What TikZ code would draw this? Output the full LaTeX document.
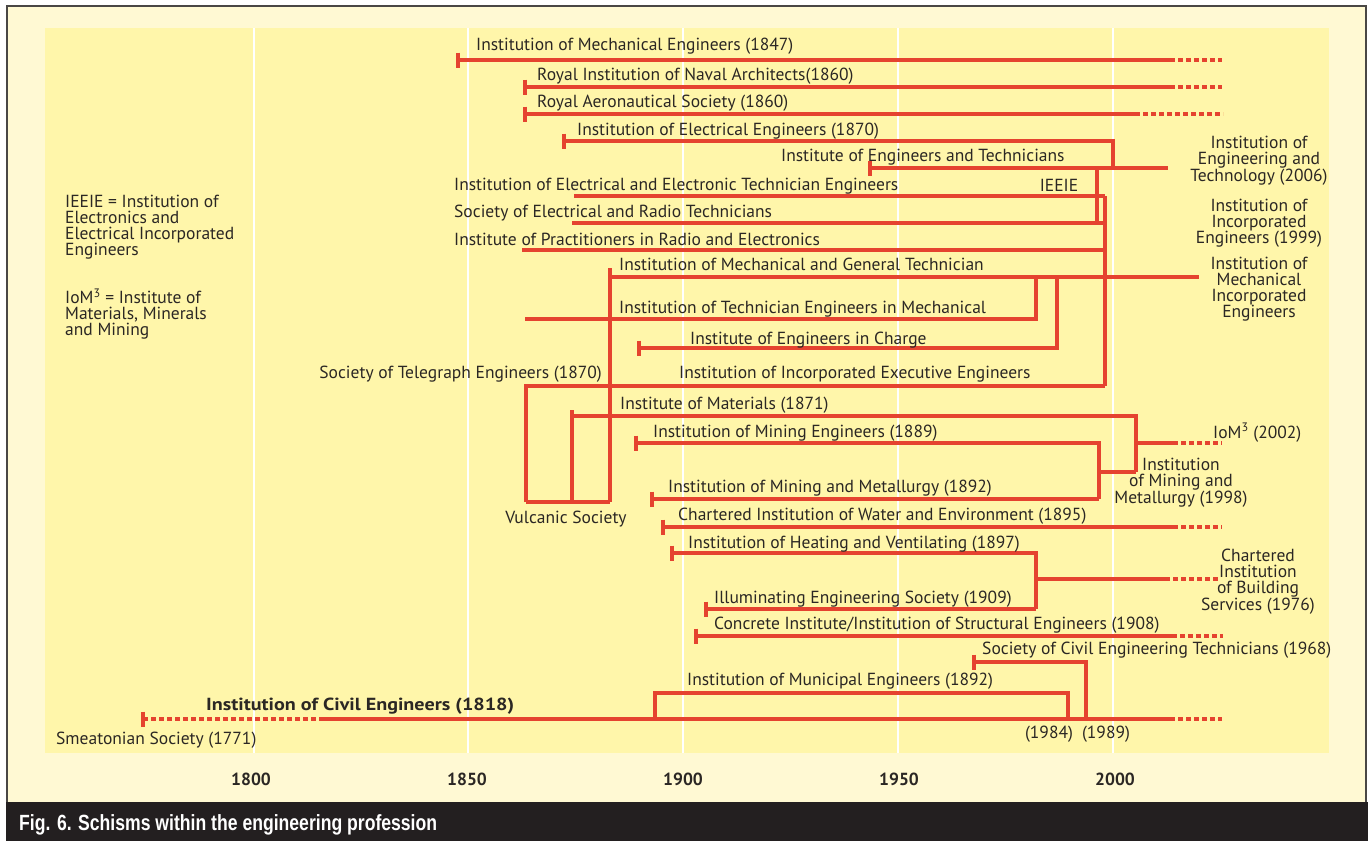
\documentclass[tikz,border=0pt]{standalone}
\usepackage{fontspec}
\usepackage{graphicx}
\setmainfont{PT Sans}
\newfontfamily\capfont{Liberation Sans}
\definecolor{redl}{HTML}{E5432F}
\definecolor{creamc}{HTML}{FFF9D3}
\definecolor{plotc}{HTML}{FFF6AA}
\definecolor{txtc}{HTML}{2B2724}
\definecolor{barc}{HTML}{231F20}
\definecolor{framec}{HTML}{4A4745}
\newcommand\rtick[2]{\draw[tk] (#1,#2-7.5) -- (#1,#2+7.5);}
\begin{document}
\begin{tikzpicture}[x=1pt,y=-1pt,
  ln/.style={draw=redl, line width=3.1pt, line join=miter},
  dsh/.style={draw=redl, line width=3.1pt, dash pattern=on 5pt off 3pt},
  tk/.style={draw=redl, line width=3.1pt},
  grid/.style={draw=white, line width=2.5pt},
  lab/.style={anchor=base west, inner sep=0pt, text=txtc, font=\fontsize{17.5}{16}\selectfont},
  labe/.style={anchor=base east, inner sep=0pt, text=txtc, font=\fontsize{17.5}{16}\selectfont},
  labc/.style={anchor=base, inner sep=0pt, text=txtc, font=\fontsize{17.5}{16}\selectfont},
  mlab/.style={align=center, inner sep=0pt, text=txtc, font=\fontsize{17.5}{16}\selectfont},
  note/.style={align=left, anchor=west, inner sep=0pt, text=txtc, font=\fontsize{17.5}{16}\selectfont},
  yr/.style={inner sep=0pt, text=txtc, font=\fontsize{17.5}{18}\selectfont\bfseries}]
\useasboundingbox (0,0) rectangle (1368,841);
% backgrounds
\fill[white] (0,0) rectangle (1368,841);
\fill[creamc] (7,6) rectangle (1366,802);
\draw[framec, line width=1.5pt] (7,802) -- (7,6) -- (1366,6) -- (1366,802);
\fill[plotc] (45,28) rectangle (1329,753);
\foreach \gx in {254,468,683,898,1113} \draw[grid] (\gx,28) -- (\gx,753);
\fill[barc] (6,802) rectangle (1368,841);
\node[anchor=west, inner sep=0pt, text=white, font=\fontsize{22}{24}\selectfont\capfont\bfseries] (cap) at (19,825) {\scalebox{0.8}[1]{Fig. 6. Schisms within the engineering profession}};
% years
\node[yr] (y1800) at (251,779) {1800};
\node[yr] (y1850) at (467,779) {1850};
\node[yr] (y1900) at (683,779) {1900};
\node[yr] (y1950) at (899,779) {1950};
\node[yr] (y2000) at (1115,779) {2000};
% notes
\node[note] (n1) at (65,227.5) {IEEIE = Institution of\\Electronics and\\Electrical Incorporated\\Engineers};
\node[note] (n2) at (65,314) {IoM\textsuperscript{3} = Institute of\\Materials, Minerals\\and Mining};

% red lines
% Mechanical
\rtick{458}{60}
\draw[ln] (458,60) -- (1170,60); \draw[dsh] (1170,60) -- (1222,60);
% RINA
\rtick{525}{87}
\draw[ln] (525,87) -- (1170,87); \draw[dsh] (1170,87) -- (1222,87);
% RAeS
\rtick{525}{114}
\draw[ln] (525,114) -- (1135,114); \draw[dsh] (1135,114) -- (1223,114);
% IEE
\rtick{564}{141}
\draw[ln] (564,141) -- (1113,141) -- (1113,168);
% IET
\rtick{870}{168}
\draw[ln] (870,168) -- (1168,168);
% IEETE, SERT
\draw[ln] (574,196) -- (1105,196);
\draw[ln] (572,223) -- (1105,223);
\draw[ln] (1097,168) -- (1097,223);
\draw[ln] (1105,196) -- (1105,386);
% IPRE
\draw[ln] (522,250) -- (1105,250);
% IMGT
\draw[ln] (610,277) -- (1199,277);
% ITEM
\draw[ln] (525,319) -- (1036,319) -- (1036,277);
% IEIC
\rtick{639}{348}
\draw[ln] (639,348) -- (1057,348) -- (1057,277);
% STE / IIEE and Vulcanic bracket
\draw[ln] (526,502) -- (526,386) -- (1105,386);
\draw[ln] (526,502) -- (610,502);
\draw[ln] (610,268) -- (610,502);
% Institute of Materials
\draw[ln] (572,410) -- (572,502);
\draw[ln] (572,416) -- (1136,416) -- (1136,472);
% Mining Engineers
\rtick{636}{443}
\draw[ln] (636,443) -- (1099,443) -- (1099,499);
% Mining and Metallurgy
\rtick{652}{499}
\draw[ln] (652,499) -- (1099,499);
\draw[ln] (1099,472) -- (1136,472);
\draw[ln] (1136,443) -- (1173,443); \draw[dsh] (1173,443) -- (1222,443);
% CIWE
\rtick{663}{527}
\draw[ln] (663,527) -- (1173,527); \draw[dsh] (1173,527) -- (1222,527);
% IHV, IES
\rtick{672}{553}
\draw[ln] (672,553) -- (1036,553) -- (1036,609);
\rtick{706}{609}
\draw[ln] (706,609) -- (1036,609);
\draw[ln] (1036,579) -- (1165,579); \draw[dsh] (1165,579) -- (1218,579);
% Concrete
\rtick{696}{636}
\draw[ln] (696,636) -- (1172,636); \draw[dsh] (1172,636) -- (1223,636);
% SCET
\rtick{974}{662}
\draw[ln] (974,662) -- (1086,662) -- (1086,719);
% Municipal
\draw[ln] (655,719) -- (655,693) -- (1068,693) -- (1068,719);
% ICE
\rtick{143}{719}
\draw[dsh] (143,719) -- (320,719);
\draw[ln] (320,719) -- (1170,719); \draw[dsh] (1170,719) -- (1222,719);

% labels
\node[lab] (l1) at (476,50) {Institution of Mechanical Engineers (1847)};
\node[lab] (l2) at (537,80) {Royal Institution of Naval Architects(1860)};
\node[lab] (l3) at (537,107) {Royal Aeronautical Society (1860)};
\node[lab] (l4) at (577,135) {Institution of Electrical Engineers (1870)};
\node[lab] (l5) at (781,161) {Institute of Engineers and Technicians};
\node[lab] (l6) at (454,190) {Institution of Electrical and Electronic Technician Engineers};
\node[labc] (l7) at (1059,191) {IEEIE};
\node[lab] (l8) at (454,217) {Society of Electrical and Radio Technicians};
\node[lab] (l9) at (454,245) {Institute of Practitioners in Radio and Electronics};
\node[lab] (l10) at (619,270) {Institution of Mechanical and General Technician};
\node[lab] (l11) at (619,313) {Institution of Technician Engineers in Mechanical};
\node[lab] (l12) at (690,344) {Institute of Engineers in Charge};
\node[lab] (l13) at (679,378) {Institution of Incorporated Executive Engineers};
\node[labe] (l14) at (602,378) {Society of Telegraph Engineers (1870)};
\node[lab] (l15) at (620,409) {Institute of Materials (1871)};
\node[lab] (l16) at (653,437) {Institution of Mining Engineers (1889)};
\node[lab] (l17) at (668,492) {Institution of Mining and Metallurgy (1892)};
\node[labc] (l18) at (566,523) {Vulcanic Society};
\node[lab] (l19) at (678,520) {Chartered Institution of Water and Environment (1895)};
\node[lab] (l20) at (688,548) {Institution of Heating and Ventilating (1897)};
\node[lab] (l21) at (714,603) {Illuminating Engineering Society (1909)};
\node[lab] (l22) at (714,629) {Concrete Institute/Institution of Structural Engineers (1908)};
\node[lab] (l23) at (982,654) {Society of Civil Engineering Technicians (1968)};
\node[lab] (l24) at (687,685) {Institution of Municipal Engineers (1892)};
\node[lab, font=\fontsize{17.5}{16}\selectfont\bfseries] (l25) at (206,710) {\scalebox{1.15}[1]{Institution of Civil Engineers (1818)}};
\node[lab] (l26) at (56,744) {Smeatonian Society (1771)};
\node[labc] (l27) at (1049,738) {(1984)};
\node[labc] (l28) at (1106,738) {(1989)};
\node[lab] (l29) at (1213,438) {IoM\textsuperscript{3} (2002)};
% right blocks
\node[mlab] (r1) at (1259,161) {Institution of\\Engineering and\\Technology (2006)};
\node[mlab] (r2) at (1259,223) {Institution of\\Incorporated\\Engineers (1999)};
\node[mlab] (r3) at (1259,289.5) {Institution of\\Mechanical\\Incorporated\\Engineers};
\node[mlab] (r4) at (1181,482.5) {Institution\\of Mining and\\Metallurgy (1998)};
\node[mlab] (r5) at (1258,581.5) {Chartered\\Institution\\of Building\\Services (1976)};
\end{tikzpicture}
\end{document}
